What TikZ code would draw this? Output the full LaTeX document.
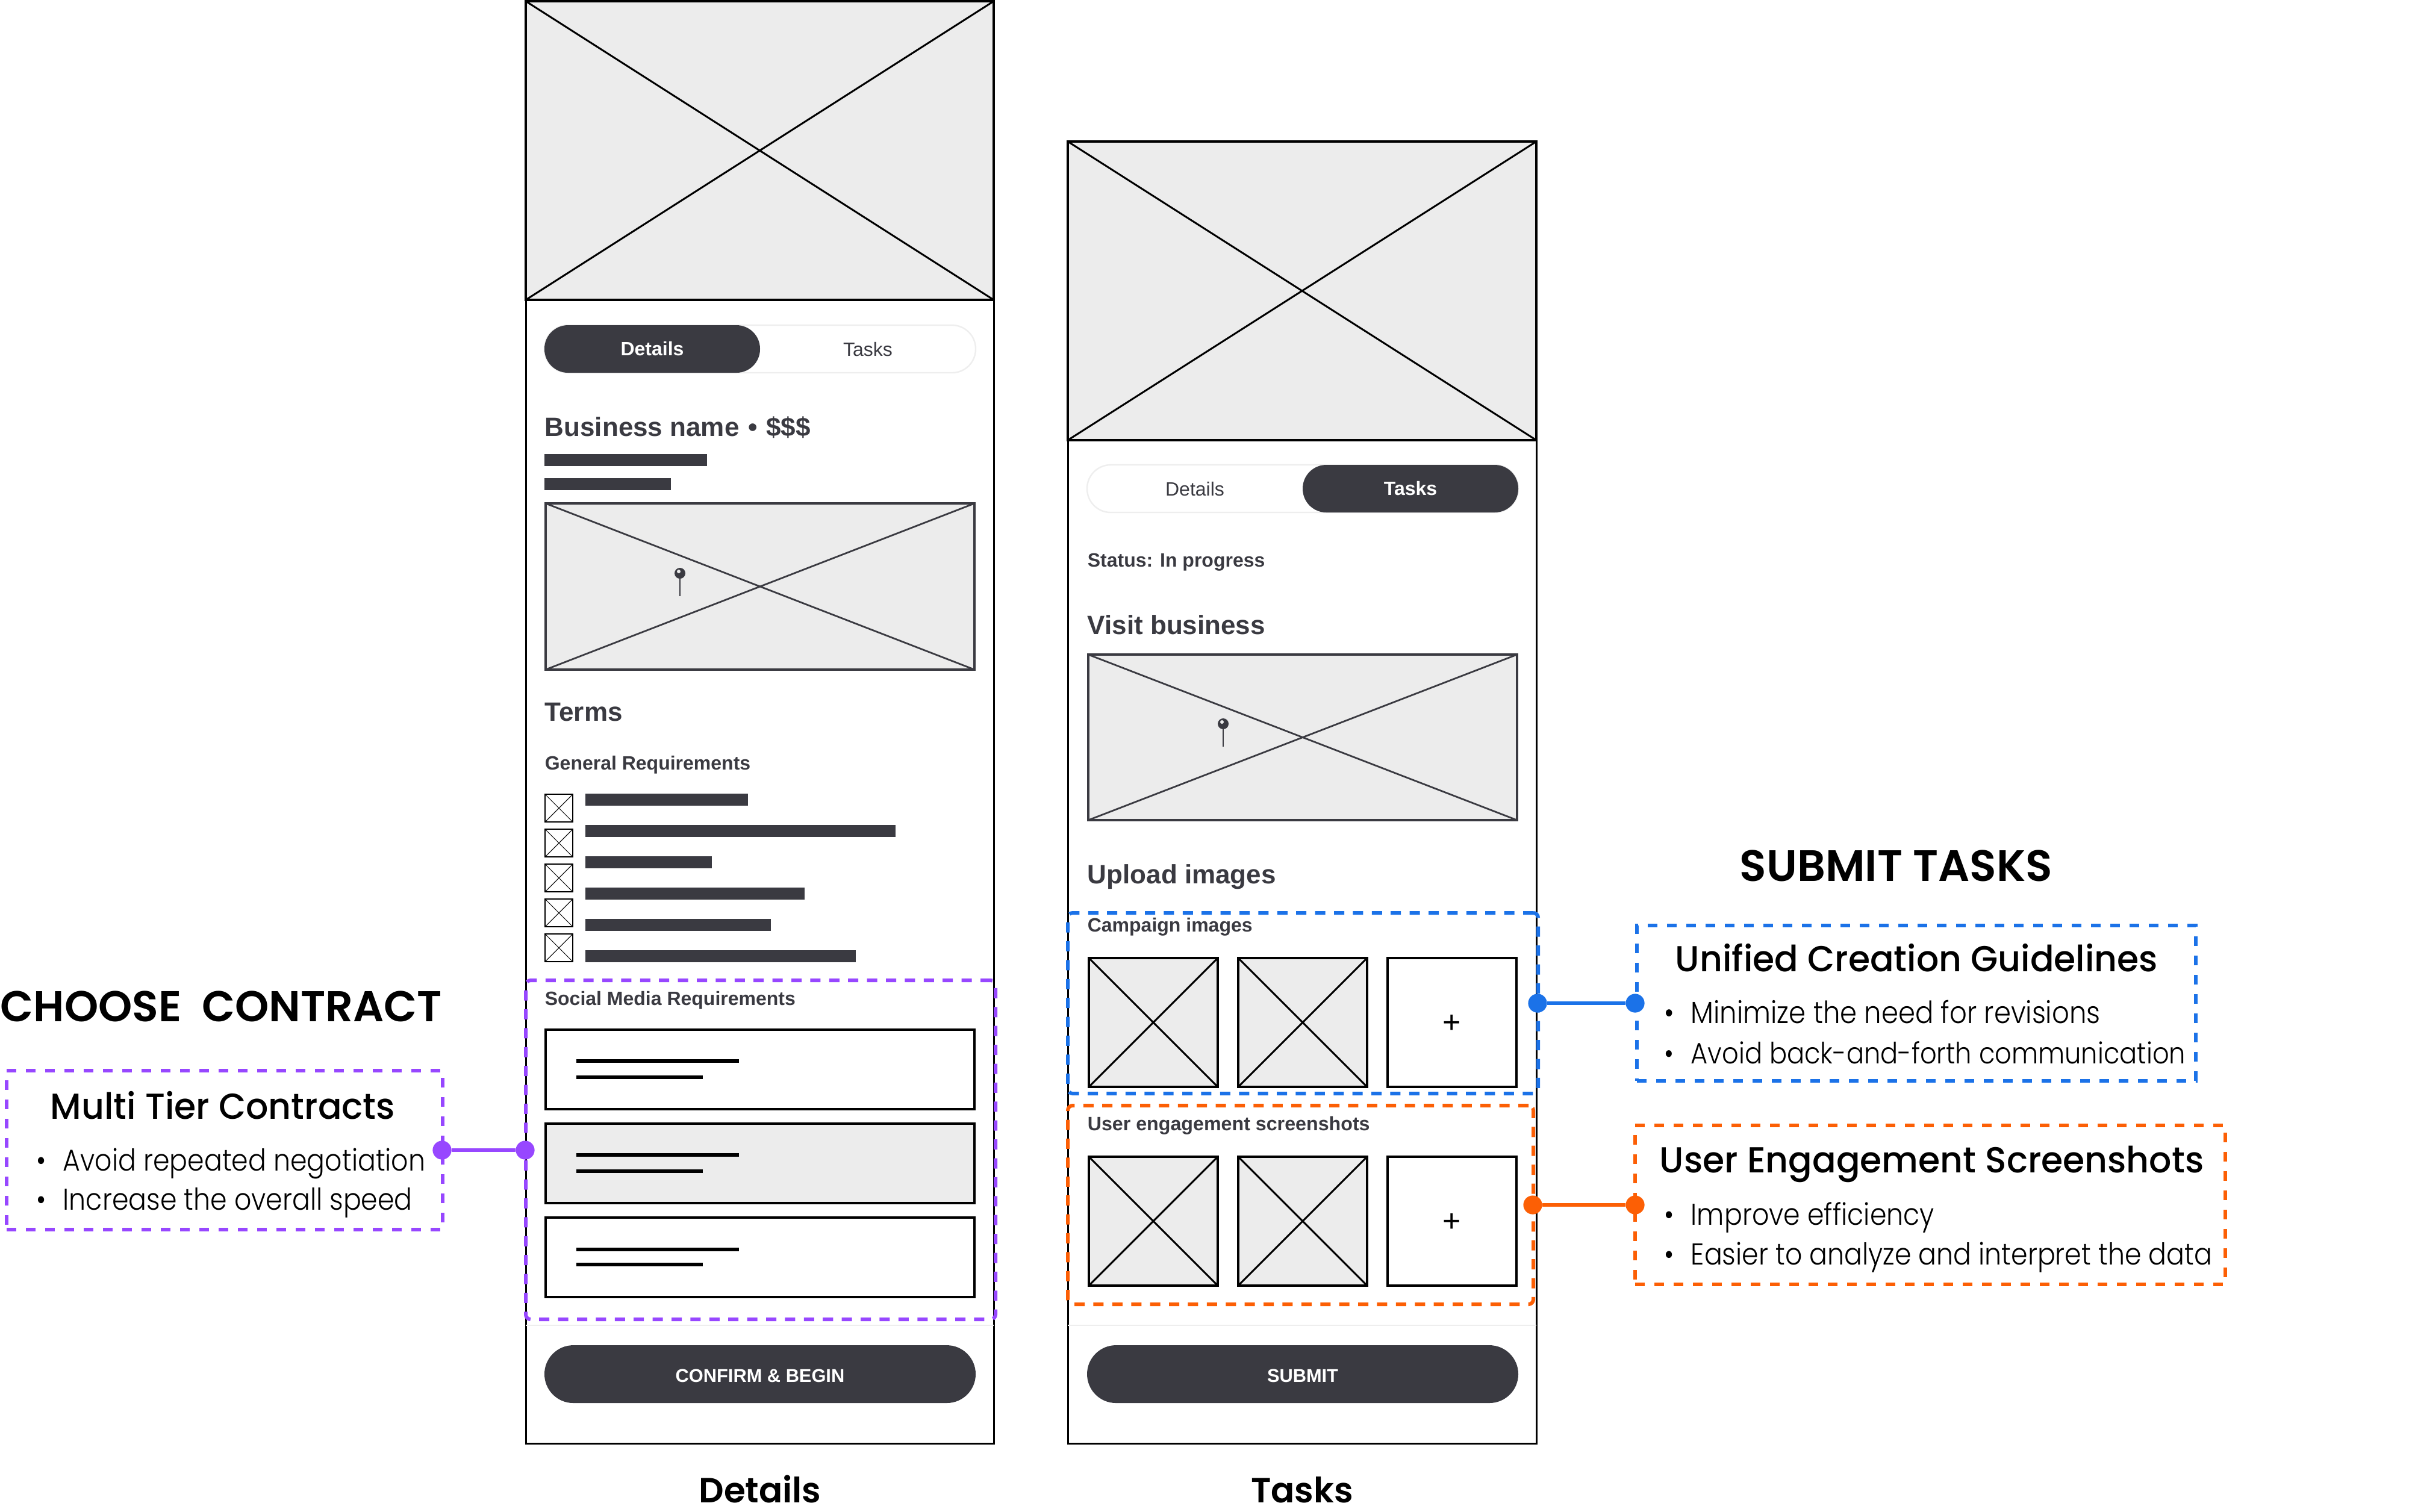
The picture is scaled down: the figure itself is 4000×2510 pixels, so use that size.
\documentclass[tikz,border=0pt]{standalone}
\usepackage{fontspec}
\setmainfont{Liberation Sans}
\newfontfamily\notelight[FakeStretch=0.885]{Poppins Light}
\newfontfamily\notehead[FakeStretch=0.975]{Poppins Medium}
\newfontfamily\notetitle{Poppins SemiBold}
\usetikzlibrary{positioning}
\definecolor{inkdark}{HTML}{3A3A41}
\definecolor{wiregray}{HTML}{ECECEC}
\definecolor{palegray}{HTML}{EEEEEE}
\definecolor{notepurple}{HTML}{9747FF}
\definecolor{noteblue}{HTML}{1B72E8}
\definecolor{noteorange}{HTML}{FC5F05}
\newcommand{\noteitem}[1]{\makebox[11pt][l]{\textbullet}#1}
\tikzset{%
  sized/.style 2 args = {minimum width=#1*0.25pt, minimum height=#2*0.25pt},
            base/.style = {rectangle, anchor=north west, inner sep=0pt, outer sep=0pt},
  phone/.style = {base, draw=black, line width=0.75pt, fill=white},
  hero/.style = {base, draw=black, line width=0.9pt, fill=wiregray,
                 path picture={\draw[line width=0.75pt] (path picture bounding box.north west) -- (path picture bounding box.south east)
                                 (path picture bounding box.north east) -- (path picture bounding box.south west);}},
  mapbox/.style = {hero, draw=inkdark, line width=1pt,
                 path picture={\draw[inkdark, line width=0.7pt] (path picture bounding box.north west) -- (path picture bounding box.south east)
                                 (path picture bounding box.north east) -- (path picture bounding box.south west);}},
  thumb/.style = {hero, sized={214}{214}},
  addbox/.style = {base, draw=black, line width=0.9pt, fill=white, sized={214}{214}},
  tick/.style = {hero, sized={46}{46}, line width=0.5pt,
                 path picture={\draw[line width=0.25pt] (path picture bounding box.north west) -- (path picture bounding box.south east)
                                 (path picture bounding box.north east) -- (path picture bounding box.south west);}, fill=white},
  row/.style = {base, draw=black, line width=1.1pt, sized={712}{132}},
  bar/.style = {base, fill=inkdark},
  rowline/.style = {base, fill=black, minimum height=1.5pt},
  pill/.style = {base, fill=white, draw=palegray, line width=0.6pt, sized={716}{79}, rounded corners=9.8pt},
  tabon/.style = {base, fill=inkdark, sized={358}{79}, rounded corners=9.8pt,
                  text=white, font=\fontsize{8}{10}\selectfont\bfseries},
  taboff/.style = {inner sep=0pt, text=inkdark, font=\fontsize{8}{10}\selectfont},
  button/.style = {base, fill=inkdark, sized={716}{96}, rounded corners=12pt, text height=6.5pt, text depth=0pt,
                   text=white, font=\fontsize{7.7}{10}\selectfont\bfseries},
  head/.style = {anchor=base west, inner sep=0pt, text=inkdark, font=\fontsize{11}{13}\selectfont\bfseries},
  sub/.style = {anchor=base west, inner sep=0pt, text=inkdark, font=\fontsize{8}{10}\selectfont\bfseries},
  caption/.style = {anchor=base, inner sep=0pt, font=\fontsize{14.5}{18}\selectfont\notetitle},
  title/.style = {anchor=base west, inner sep=0pt, font=\fontsize{17.9}{22}\selectfont\notetitle},
  notehd/.style = {anchor=base west, inner sep=0pt, font=\fontsize{15}{18}\selectfont\notehead},
  notetx/.style = {anchor=base west, inner sep=0pt, font=\fontsize{12.5}{15}\selectfont\notelight},
  zone/.style = {base, line width=1.5pt, dash pattern=on 4.25pt off 3.6pt, rounded corners=2pt},
  note/.style = {base, line width=1.5pt, dash pattern=on 4pt off 4pt},
  dot/.style = {circle, fill=#1, inner sep=0pt, outer sep=0pt, minimum size=7.8pt},
  pinhead/.style = {circle, fill=inkdark, inner sep=0pt, outer sep=0pt, minimum size=4.5pt},
  pinhole/.style = {circle, fill=wiregray, inner sep=0pt, outer sep=0pt, minimum size=1.5pt},
  plus/.style = {inner sep=0pt, yshift=-0.6pt, font=\fontsize{13}{13}\selectfont},
}
\begin{document}
\begin{tikzpicture}[x=0.25pt, y=-0.25pt]
  \useasboundingbox (0,0) rectangle (4000,2510);

  % details screen
  \node (phoneD) [phone, sized={777}{2395}] at (873,2) {};
  \node (heroD)  [hero,  sized={777}{496}]  at (873,2) {};
  \node (pillD)  [pill] at (904,540) {};
  \node (tabD)   [tabon] at (904,540) {Details};
  \node (tabDx)  [taboff] at (1441,580) {Tasks};
  \node (nameD)  [head] at (904,724) {Business name\,\,•\,\,\$\$\$};
  \node (barA)   [bar, sized={270}{20}] at (904,754) {};
  \node (barB)   [bar, sized={210}{20}] at (904,794) {};
  \node (mapD)   [mapbox, sized={712}{276}] at (906,836) {};
  \node (pinD)   [pinhead] at (1129,952) {};
  \node (holeD)  [pinhole] at (1127,949) {};
  \draw[inkdark, line width=0.5pt] (pinD) -- ++(0,38);
  \node (terms)  [head] at (904,1197) {Terms};
  \node (general) [sub] at (904,1278) {General Requirements};
  \node (tickA)  [tick] at (905,1319) {};
  \node (tickB)  [tick] at (905,1377) {};
  \node (tickC)  [tick] at (905,1435) {};
  \node (tickD)  [tick] at (905,1493) {};
  \node (tickE)  [tick] at (905,1551) {};
  \node (lineA)  [bar, sized={270}{20}] at (972,1318) {};
  \node (lineB)  [bar, sized={515}{20}] at (972,1370) {};
  \node (lineC)  [bar, sized={210}{20}] at (972,1422) {};
  \node (lineD)  [bar, sized={364}{20}] at (972,1474) {};
  \node (lineE)  [bar, sized={308}{20}] at (972,1526) {};
  \node (lineF)  [bar, sized={449}{20}] at (972,1578) {};
  \node (social) [sub] at (904,1669) {Social Media Requirements};
  \node (rowA)   [row, fill=white]    at (906,1710) {};
  \node (rowB)   [row, fill=wiregray] at (906,1866) {};
  \node (rowC)   [row, fill=white]    at (906,2022) {};
  \node (rowAa)  [rowline, minimum width=67.5pt] at (957,1759) {};
  \node (rowAb)  [rowline, minimum width=52.5pt] at (957,1786) {};
  \node (rowBa)  [rowline, minimum width=67.5pt] at (957,1915) {};
  \node (rowBb)  [rowline, minimum width=52.5pt] at (957,1942) {};
  \node (rowCa)  [rowline, minimum width=67.5pt] at (957,2072) {};
  \node (rowCb)  [rowline, minimum width=52.5pt] at (957,2097) {};
  \draw[palegray, line width=0.5pt] (873,2201) -- (1650,2201);
  \node (zoneD)  [zone, draw=notepurple, sized={780}{563}] at (873,1628) {};
  \node (confirm) [button] at (904,2234) {CONFIRM \& BEGIN};
  \node (capD)   [caption] at (1262,2495) {Details};

  % tasks screen
  \node (phoneT) [phone, sized={778}{2162}] at (1773,235) {};
  \node (heroT)  [hero,  sized={778}{496}]  at (1773,235) {};
  \node (pillT)  [pill] at (1805,772) {};
  \node (tabT)   [tabon] at (2163,772) {Tasks};
  \node (tabTx)  [taboff] at (1984,812) {Details};
  \node (status) [sub] at (1805,941) {Status: In progress};
  \node (visit)  [head] at (1805,1053) {Visit business};
  \node (mapT)   [mapbox, sized={712}{275}] at (1807,1087) {};
  \node (pinT)   [pinhead] at (2031,1202) {};
  \node (holeT)  [pinhole] at (2029,1199) {};
  \draw[inkdark, line width=0.5pt] (pinT) -- ++(0,38);
  \node (upload) [head] at (1805,1467) {Upload images};
  \node (campaign) [sub] at (1805,1547) {Campaign images};
  \node (thumbA) [thumb] at (1808,1591) {};
  \node (thumbB) [thumb] at (2056,1591) {};
  \node (addA)   [addbox] at (2304,1591) {};
  \node (plusA)  [plus] at (addA.center) {+};
  \node (engage) [sub, font=\fontsize{8.05}{10}\selectfont\bfseries] at (1805,1877) {User engagement screenshots};
  \node (thumbC) [thumb] at (1808,1921) {};
  \node (thumbD) [thumb] at (2056,1921) {};
  \node (addB)   [addbox] at (2304,1921) {};
  \node (plusB)  [plus] at (addB.center) {+};
  \draw[palegray, line width=0.5pt] (1773,2201) -- (2551,2201);
  \node (zoneB)  [zone, draw=noteblue, sized={781}{300}] at (1773,1516) {};
  \node (zoneO)  [zone, draw=noteorange, sized={773}{330}] at (1773,1836) {};
  \node (submit) [button] at (1805,2234) {SUBMIT};
  \node (capT)   [caption] at (2162,2495) {Tasks};

  % left note
  \node (choose) [title] at (0,1696) {CHOOSE\ \ CONTRACT};
  \node (noteP)  [note, draw=notepurple, sized={724}{264}] at (11,1778) {};
  \node (tierH)  [notehd] at (83,1858) {Multi Tier Contracts};
  \node (tierA)  [notetx] at (60,1944) {\noteitem{Avoid repeated negotiation}};
  \node (tierB)  [notetx] at (60,2009) {\noteitem{Increase the overall speed}};
  \node (dotPa)  [dot=notepurple] at (734,1910) {};
  \node (dotPb)  [dot=notepurple] at (872,1910) {};
  \draw[notepurple, line width=1.5pt] (dotPa) -- (dotPb);

  % right notes
  \node (submitT) [title, font=\fontsize{18.25}{22}\selectfont\notetitle] at (2888,1463) {SUBMIT TASKS};
  \node (noteB)  [note, draw=noteblue, sized={928}{258}] at (2718,1537) {};
  \node (uniH)   [notehd] at (2781,1613) {Unified Creation Guidelines};
  \node (uniA)   [notetx, font=\fontsize{12.7}{15}\selectfont\notelight] at (2763,1699) {\noteitem{Minimize the need for revisions}};
  \node (uniB)   [notetx, font=\fontsize{12.2}{15}\selectfont\notelight] at (2763,1766) {\noteitem{Avoid back-and-forth communication}};
  \node (noteO)  [note, draw=noteorange, sized={980}{264}] at (2715,1869) {};
  \node (engH)   [notehd] at (2755,1947) {User Engagement Screenshots};
  \node (engA)   [notetx] at (2763,2034) {\noteitem{Improve efficiency}};
  \node (engB)   [notetx] at (2763,2100) {\noteitem{Easier to analyze and interpret the data}};
  \node (dotBa)  [dot=noteblue] at (2553,1666) {};
  \node (dotBb)  [dot=noteblue] at (2715,1666) {};
  \draw[noteblue, line width=1.5pt] (dotBa) -- (dotBb);
  \node (dotOa)  [dot=noteorange] at (2545,2001) {};
  \node (dotOb)  [dot=noteorange] at (2715,2001) {};
  \draw[noteorange, line width=1.5pt] (dotOa) -- (dotOb);
\end{tikzpicture}
\end{document}
